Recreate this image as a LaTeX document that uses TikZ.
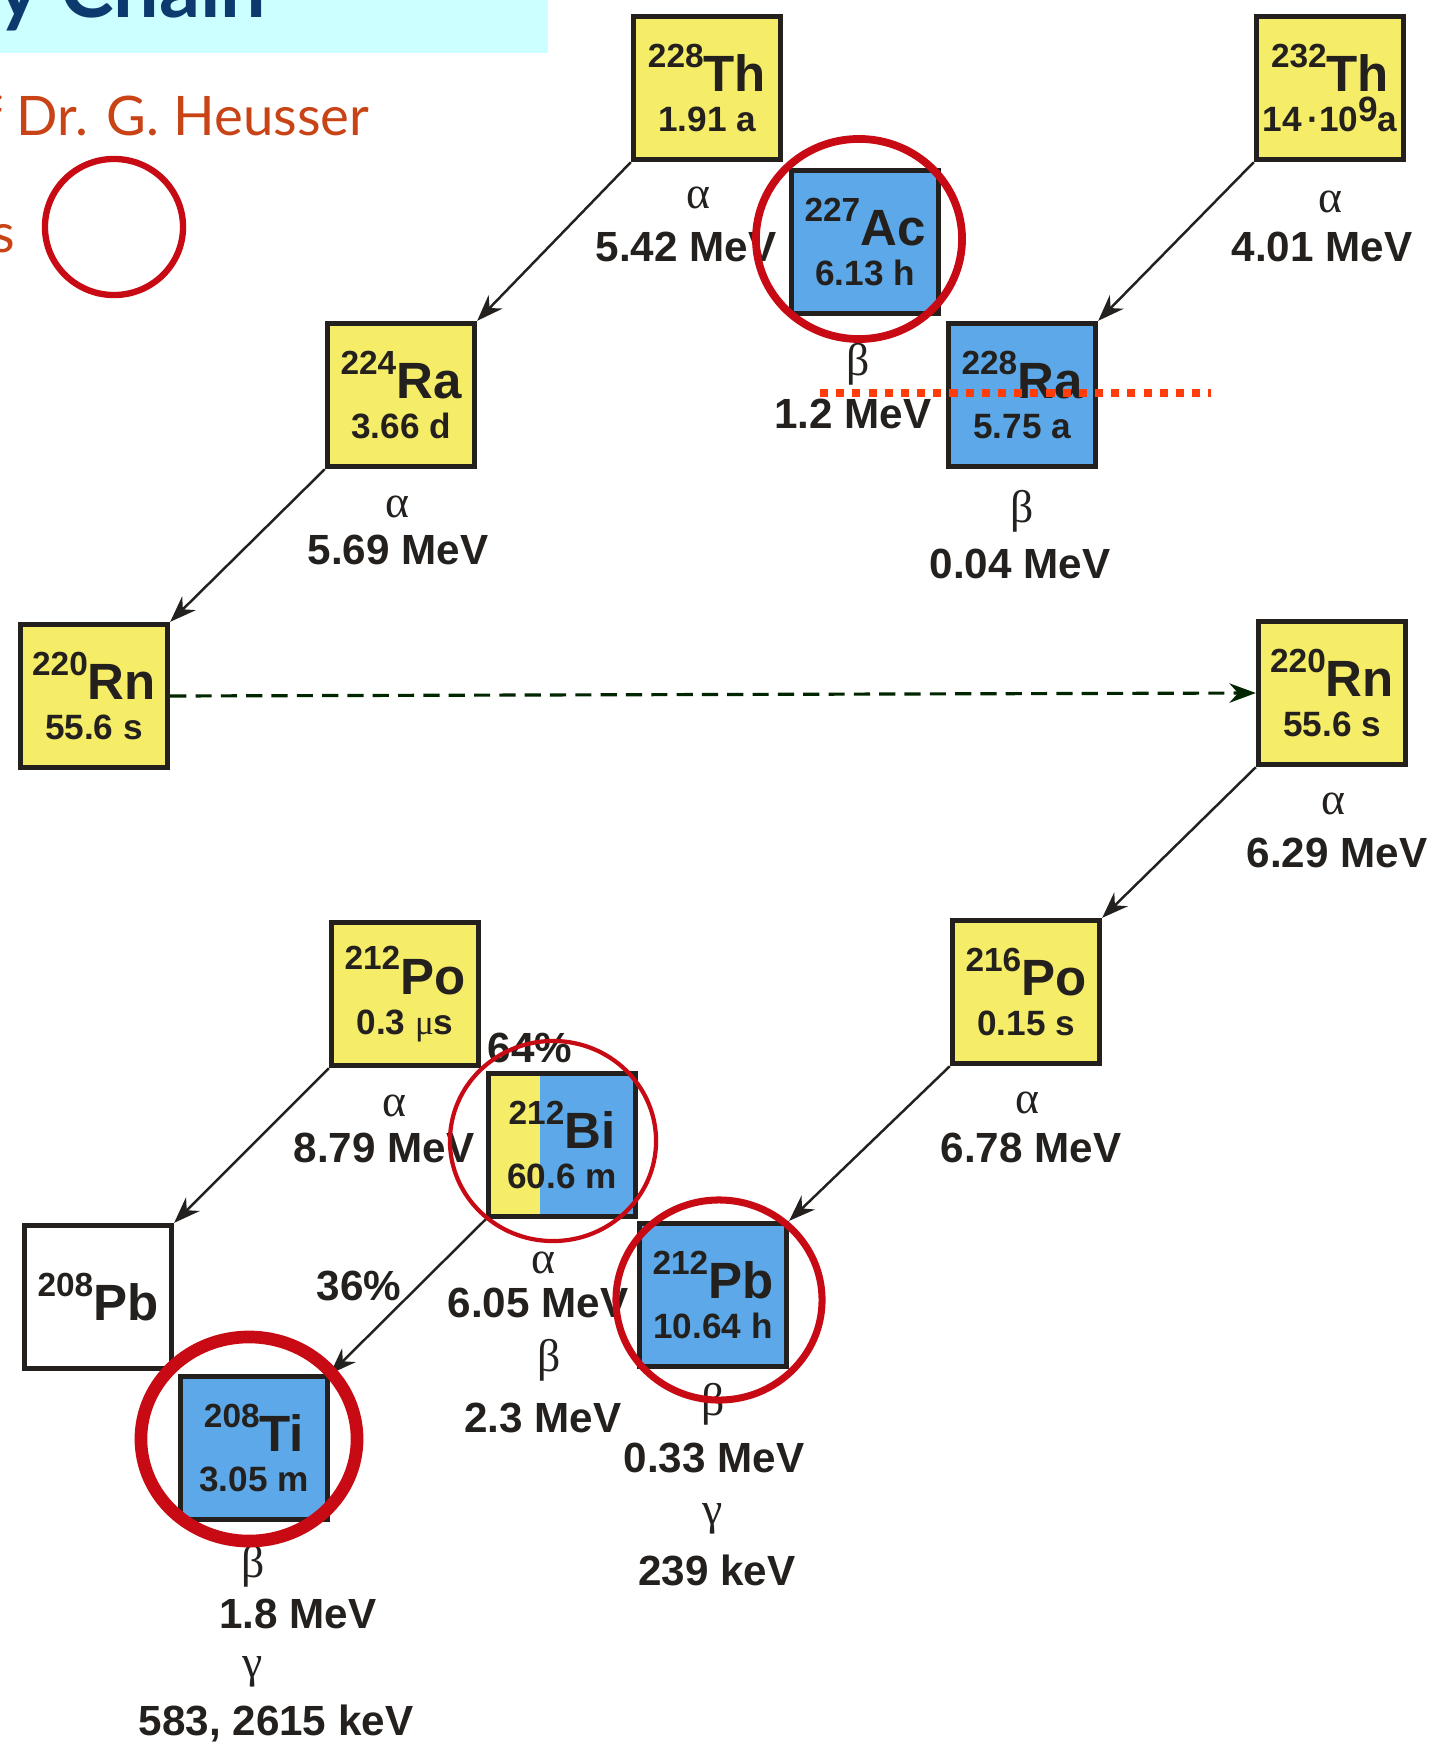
\documentclass[tikz,border=0pt]{standalone}
\usepackage{fontspec}
\setmainfont{Liberation Sans}
\newfontfamily\grk{Liberation Serif}
\newfontfamily\gill{Lato}
\usepackage{tikz}
\usetikzlibrary{positioning,arrows.meta,calc}
\usepackage{xcolor}

\definecolor{nyellow}{RGB}{245,236,104}
\definecolor{nblue}{RGB}{92,168,232}
\definecolor{ringred}{RGB}{200,10,20}
\definecolor{dotred}{RGB}{255,60,10}
\definecolor{bannercyan}{RGB}{204,255,255}
\definecolor{titleblue}{RGB}{12,58,110}
\definecolor{credit}{RGB}{200,68,22}
\definecolor{ink}{RGB}{35,32,30}

% mass number, symbol, half-life
\newcommand\iso[3]{\raisebox{7pt}{\fontsize{9.5}{11}\selectfont #1}{\fontsize{14.5}{15}\selectfont #2}\\{\fontsize{10}{11}\selectfont #3}}

\begin{document}
\begin{tikzpicture}[
        x=0.01cm, y=-0.01cm,
        nuc/.style={
            draw=ink,
            line width=1.5pt,
            minimum width=1.47cm,
            minimum height=1.43cm,
            inner sep=0pt,
            align=center,
            text=ink,
            font=\fontsize{10}{11.4}\selectfont\bfseries
        },
        ybox/.style={
            nuc,
            fill=nyellow
        },
        bbox/.style={
            nuc,
            fill=nblue
        },
        wbox/.style={
            nuc,
            fill=white
        },
        dec/.style={
            font=\grk\fontsize{13}{13}\selectfont,
            text=ink
        },
        en/.style={
            font=\fontsize{12}{14}\selectfont\bfseries,
            text=ink
        },
        slide/.style={
            anchor=base east,
            inner sep=0pt,
            font=\gill\fontsize{15.5}{16}\selectfont,
            text=credit
        },
        redring/.style={
            draw=ringred,
            line width=1.8pt
        },
        arr/.style={
            -{Stealth[length=7.5pt,width=5.5pt]},
            line width=0.7pt,
            draw=ink
        }
    ]

    \useasboundingbox (0,0) rectangle (1435,1743);

    % =========================
    % Slide remains
    % =========================
    \fill[bannercyan] (0,0) rectangle (548,53);
    \node[slide, font=\gill\bfseries\fontsize{23}{23}\selectfont, text=titleblue] (title) at (267,18) {y Chain};
    \node[slide] (credit) at (370,136) {f Dr. G. Heusser};
    \node[slide] (lines) at (16,253) {s};
    \draw[redring] (114,227) ellipse [x radius=0.69cm, y radius=0.68cm];

    % =========================
    % Nuclides
    % =========================
    \node[ybox] (th228) at (707,88) {\iso{228}{Th}{1.91 a}};
    \node[ybox] (th232) at (1330,88) {\iso{232}{Th}{14\,·10\raisebox{3pt}{9}a}};
    \node[bbox] (ac227) at (865,242) {\iso{227}{Ac}{6.13 h}};
    \node[bbox] (ra228) at (1022,395) {\iso{228}{Ra}{5.75 a}};
    \node[ybox] (ra224) at (401,395) {\iso{224}{Ra}{3.66 d}};
    \node[ybox] (rn220a) at (94,696) {\iso{220}{Rn}{55.6 s}};
    \node[ybox] (rn220b) at (1332,693) {\iso{220}{Rn}{55.6 s}};
    \node[ybox] (po216) at (1026,992) {\iso{216}{Po}{0.15 s}};
    \node[ybox] (po212) at (405,994) {\iso{212}{Po}{0.3 {\grk\mdseries μ}s}};
    \node[bbox, path picture={
            \fill[nyellow] (path picture bounding box.north west)
                rectangle ([xshift=0.52cm]path picture bounding box.south west);
        }] (bi212) at (562,1145) {\iso{212}{Bi}{60.6 m}};
    \node[bbox] (pb212) at (713,1295) {\iso{212}{Pb}{10.64 h}};
    \node[wbox] (pb208) at (98,1297) {\raisebox{7pt}{\fontsize{9.5}{11}\selectfont 208}{\fontsize{14.5}{15}\selectfont Pb}};
    \node[bbox] (ti208) at (254,1448) {\iso{208}{Ti}{3.05 m}};

    % =========================
    % Decays
    % =========================
    \draw[arr] (th228.south west) -- (ra224.north east);
    \draw[arr] (th232.south west) -- (ra228.north east);
    \draw[arr] (ra224.south west) -- (rn220a.north east);
    \draw[arr, draw=black!75!green!60!black, dash pattern=on 4.6pt off 2.6pt, line width=0.9pt] (rn220a.east) -- (rn220b.west);
    \draw[arr] (rn220b.south west) -- (po216.north east);
    \draw[arr] (po216.south west) -- (pb212.north east);
    \draw[arr] (po212.south west) -- (pb208.north east);
    \draw[arr] (bi212.south west) -- (ti208.north east);

    \node[dec] (d1) at (698,198) {α};
    \node[en] (e1) at (686,247) {5.42 MeV};
    \node[dec] (d2) at (1330,202) {α};
    \node[en] (e2) at (1322,247) {4.01 MeV};
    \node[dec] (d3) at (858,364) {β};
    \node[en] (e3) at (853,414) {1.2 MeV};
    \node[dec] (d4) at (1022,511) {β};
    \node[en] (e4) at (1020,564) {0.04 MeV};
    \node[dec] (d5) at (397,507) {α};
    \node[en] (e5) at (398,550) {5.69 MeV};
    \node[dec] (d6) at (1333,804) {α};
    \node[en] (e6) at (1337,853) {6.29 MeV};
    \node[dec] (d7) at (1027,1103) {α};
    \node[en] (e7) at (1031,1148) {6.78 MeV};
    \node[dec] (d8) at (394,1106) {α};
    \node[en] (e8) at (384,1148) {8.79 MeV};
    \node[en] (p64) at (530,1048) {64\%};
    \node[en] (p36) at (359,1286) {36\%};
    \node[dec] (d9) at (543,1263) {α};
    \node[en] (e9) at (538,1303) {6.05 MeV};
    \node[dec] (d10) at (549,1360) {β};
    \node[en] (e10) at (543,1418) {2.3 MeV};
    \node[dec] (d11) at (713,1404) {β};
    \node[en] (e11) at (714,1458) {0.33 MeV};
    \node[dec] (g11) at (713,1519) {γ};
    \node[en] (k11) at (717,1570) {239 keV};
    \node[dec] (d12) at (253,1566) {β};
    \node[en] (e12) at (298,1614) {1.8 MeV};
    \node[dec] (g12) at (253,1672) {γ};
    \node[en] (k12) at (276,1723) {583, 2615 keV};

    % =========================
    % Marks
    % =========================
    \draw[dotred, line width=2.3pt, dash pattern=on 2.3pt off 2.3pt] (820,393) -- (1211,393);
    \draw[redring, line width=2.2pt] (859,239) ellipse [x radius=1.03cm, y radius=1.0cm];
    \draw[redring, line width=1.2pt] (553,1141) ellipse [x radius=1.03cm, y radius=1.0cm];
    \draw[redring, line width=2pt] (719,1300) ellipse [x radius=1.03cm, y radius=1.0cm];
    \draw[redring, line width=3.6pt] (249,1439) ellipse [x radius=1.08cm, y radius=1.02cm];

\end{tikzpicture}
\end{document}
